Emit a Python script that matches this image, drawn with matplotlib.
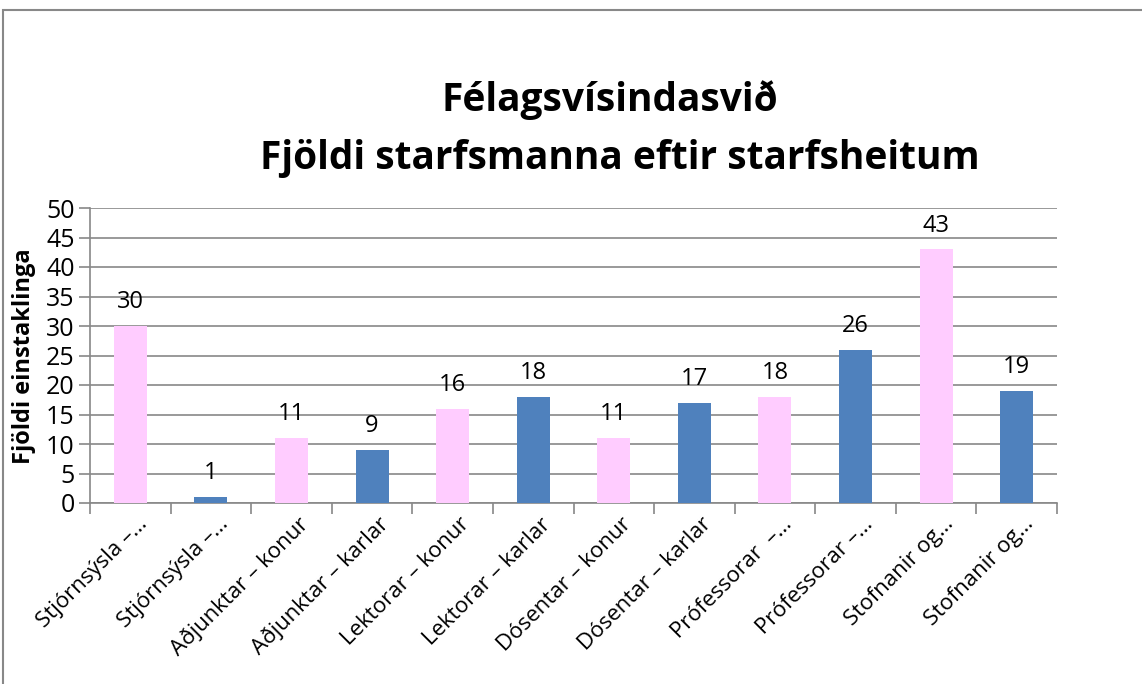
import matplotlib
matplotlib.use("Agg")
import matplotlib.pyplot as plt
from matplotlib.patches import Rectangle
from matplotlib.transforms import ScaledTranslation

categories = ["Stjórnsýsla –…", "Stjórnsýsla –…", "Aðjunktar – konur", "Aðjunktar – karlar",
              "Lektorar – konur", "Lektorar – karlar", "Dósentar – konur", "Dósentar – karlar",
              "Prófessorar  –…", "Prófessorar –…", "Stofnanir og…", "Stofnanir og…"]
values = [30, 1, 11, 9, 16, 18, 11, 17, 18, 26, 43, 19]
bar_colors = ["#FFCCFF", "#4F81BD"] * 6
title_lines = ["Félagsvísindasvið", "Fjöldi starfsmanna eftir starfsheitum"]
ylabel = "Fjöldi einstaklinga"
yticks = list(range(0, 51, 5))

plt.rcParams['font.family'] = ['Open Sans', 'DejaVu Sans']

fig = plt.figure(figsize=(11.42, 6.84), dpi=100)
fig.patches.append(Rectangle((3/1142, -0.01), 1.0, 1 - 10/684 + 0.01, transform=fig.transFigure,
                             fill=False, edgecolor="#888888", linewidth=1.5))
ax = fig.add_axes([90/1142, 1 - 503/684, (1057-90)/1142, (503-208)/684])

x = list(range(len(categories)))
bars = ax.bar(x, values, width=0.41, color=bar_colors, zorder=3)
for xi, v in zip(x, values):
    ax.text(xi, v + 2.0, str(v), ha="center", va="bottom", fontsize=17, color="black")

ax.set_xlim(-0.5, len(categories) - 0.5)
ax.set_ylim(0, 50)
ax.set_yticks(yticks)
ax.set_yticklabels([str(t) for t in yticks], fontsize=18)
ax.yaxis.grid(True, color="#888888", linewidth=1.2, zorder=0)
ax.set_axisbelow(True)
for s in ["top", "right"]:
    ax.spines[s].set_visible(False)
for s in ["left", "bottom"]:
    ax.spines[s].set_color("#888888")
    ax.spines[s].set_linewidth(1.2)
ax.tick_params(axis="y", length=8, width=1.2, color="#888888", pad=3)

ax.set_xticks([i - 0.5 for i in range(len(categories) + 1)], minor=False)
ax.set_xticklabels([])
ax.tick_params(axis="x", which="major", length=8, width=1.2, color="#888888")
ax.set_xticks(x, minor=True)
ax.set_xticklabels(categories, minor=True, rotation=45, ha="right", va="center",
                   rotation_mode="anchor", fontsize=16)
ax.tick_params(axis="x", which="minor", length=0, pad=13)
offset = ScaledTranslation(14/100, 0, fig.dpi_scale_trans)
for lbl in ax.xaxis.get_minorticklabels():
    lbl.set_transform(lbl.get_transform() + offset)

fig.text(610/1142, 1 - 100/684, title_lines[0], ha="center", va="center", fontsize=28, fontweight="bold")
fig.text(620/1142, 1 - 158/684, title_lines[1], ha="center", va="center", fontsize=28, fontweight="bold")
fig.text(24/1142, 1 - 356/684, ylabel, rotation=90, ha="center", va="center", fontsize=17, fontweight="bold")

fig.savefig("out.png", dpi=100)
